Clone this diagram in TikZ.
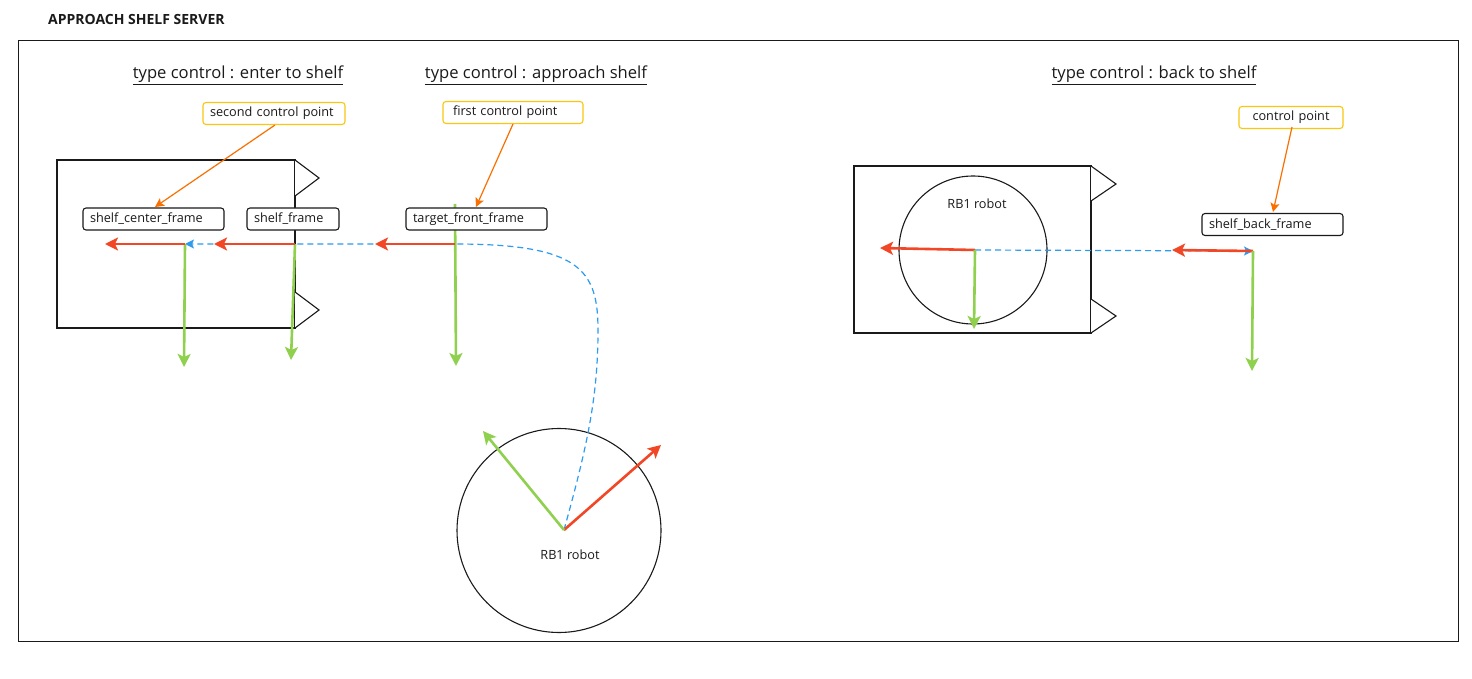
\documentclass[tikz,border=0pt]{standalone}
\usepackage{fontspec}
\setmainfont{Open Sans}
\usetikzlibrary{arrows.meta}
\definecolor{txt}{HTML}{1A1A1A}
\definecolor{axred}{HTML}{F24726}
\definecolor{axgreen}{HTML}{8FD14F}
\definecolor{callorange}{HTML}{FA7000}
\definecolor{pathblue}{HTML}{2D9BF0}
\definecolor{noteyellow}{HTML}{FAC710}
\tikzset{
  lbl/.style={draw=txt, fill=white, line width=1.1pt, rounded corners=3pt, minimum height=22pt, inner xsep=7pt, inner ysep=0pt, align=left, font=\fontsize{12.7}{14}\selectfont, text=txt},
  note/.style={draw=noteyellow, fill=white, line width=1.1pt, rounded corners=3pt, minimum height=22pt, inner xsep=7pt, inner ysep=0pt, align=left, font=\fontsize{12.7}{14}\selectfont, text=txt},
  heading/.style={font=\fontsize{16.6}{19}\selectfont, text=txt, inner sep=0pt},
  xaxis/.style={draw=axred, line width=2.6pt, -{Stealth[length=13pt,width=13pt,inset=3pt]}},
  yaxis/.style={draw=axgreen, line width=2.6pt, -{Stealth[length=13pt,width=13pt,inset=3pt]}},
  callout/.style={draw=callorange, line width=1.2pt, -{Stealth[length=9pt,width=9pt,inset=2pt]}},
  route/.style={draw=pathblue, line width=1.2pt, dash pattern=on 6pt off 4pt, -{Stealth[length=9pt,width=9pt,inset=2pt]}},
  box/.style={draw=txt, line width=1.1pt},
  tri/.style={draw=txt, line width=1.1pt, fill=white},
  rtext/.style={font=\fontsize{12.7}{14}\selectfont, text=txt, inner sep=0pt},
}
\begin{document}
\begin{tikzpicture}[x=1pt,y=-1pt]
\useasboundingbox[fill=white] (0,0) rectangle (1472,679);
% outer frame
\draw[txt, line width=1pt] (18,41) rectangle (1458,641);
\node[anchor=west, font=\bfseries\fontsize{14}{16}\selectfont, text=txt, inner sep=0pt] (title) at (48,19) {APPROACH SHELF SERVER};
% headings
\node[heading] (h1) at (238,75) {\underline{type control : enter to shelf}};
\node[heading] (h2) at (536,75) {\underline{type control : approach shelf}};
\node[heading] (h3) at (1154,75) {\underline{type control : back to shelf}};

% ===== left shelf =====
\draw[box] (57,160) rectangle (295,328);
\draw[tri] (295,160) -- (319,178) -- (295,196);
\draw[tri] (295,292) -- (319,310) -- (295,328);

% frame origins
\coordinate (scO) at (185,244);
\coordinate (sfO) at (295,244);
\coordinate (tfO) at (455,244);
\coordinate (scX) at (105,244);
\coordinate (scY) at (184,367);
\coordinate (sfX) at (214,244);
\coordinate (sfY) at (291,360);
\coordinate (tfX) at (375,244);
\coordinate (tfTop) at (455,204);
\coordinate (tfY) at (456,366);

% robot (bottom)
\node[draw=txt, line width=1.1pt, circle, minimum size=204pt, inner sep=0pt] (rb) at (559,530.5) {};
\coordinate (rbO) at (564,530);
\coordinate (rbX) at (661,445);
\coordinate (rbY) at (483,431);
\node[rtext] (rbt) at (570,555) {RB1 robot};

% route (blue dashed)
\coordinate (c1) at (598,330);
\path[route] (rbO) .. controls (586,450) and (598,400) .. (c1) .. controls (598,270) and (580,244) .. (tfO) -- (scO);

% axes
\path[yaxis] (scO) -- (scY);
\path[xaxis] (scO) -- (scX);
\path[yaxis] (sfO) -- (sfY);
\path[xaxis] (sfO) -- (sfX);
\path[yaxis] (tfTop) -- (tfY);
\path[xaxis] (tfO) -- (tfX);
\path[xaxis] (rbO) -- (rbX);
\path[yaxis] (rbO) -- (rbY);

% labels
\node[lbl, text width=127pt] (scf) at (153.5,219) {shelf\_center\_frame};
\node[lbl, text width=78pt] (sf) at (293,219) {shelf\_frame};
\node[lbl, text width=127pt] (tff) at (476.5,219) {target\_front\_frame};
\node[note, text width=128pt] (n2) at (274,113.5) {second control point};
\node[note, text width=120pt, inner xsep=10pt] (n1) at (513,112.5) {first control point};

% callouts
\coordinate (n2a) at (275,125);
\coordinate (n2b) at (155,207);
\coordinate (n1a) at (513,124);
\coordinate (n1b) at (476,207);
\path[callout] (n2a) -- (n2b);
\path[callout] (n1a) -- (n1b);

% ===== right shelf =====
\draw[box] (854,166) rectangle (1091,333);
\draw[tri] (1091,166) -- (1116,184) -- (1091,201);
\draw[tri] (1091,299) -- (1116,316) -- (1091,333);
\node[draw=txt, line width=1.1pt, circle, minimum size=148pt, inner sep=0pt] (rb2) at (973,250) {};
\node[rtext] (rb2t) at (977,204) {RB1 robot};

\coordinate (r2O) at (975,250);
\coordinate (r2X) at (880,248);
\coordinate (r2Y) at (974,329);
\coordinate (sbO) at (1253,251);
\coordinate (sbX) at (1172,250);
\coordinate (sbY) at (1252,371);

\path[route] (r2O) -- (sbO);
\path[xaxis] (r2O) -- (r2X);
\path[yaxis] (r2O) -- (r2Y);
\path[xaxis] (sbO) -- (sbX);
\path[yaxis] (sbO) -- (sbY);

\node[lbl, text width=127pt] (sbf) at (1272.5,224.5) {shelf\_back\_frame};
\node[note, text width=90pt, align=center] (n3) at (1291,117.5) {control point};

\coordinate (n3a) at (1292,127);
\coordinate (n3b) at (1273,212);
\path[callout] (n3a) -- (n3b);
\end{tikzpicture}
\end{document}
